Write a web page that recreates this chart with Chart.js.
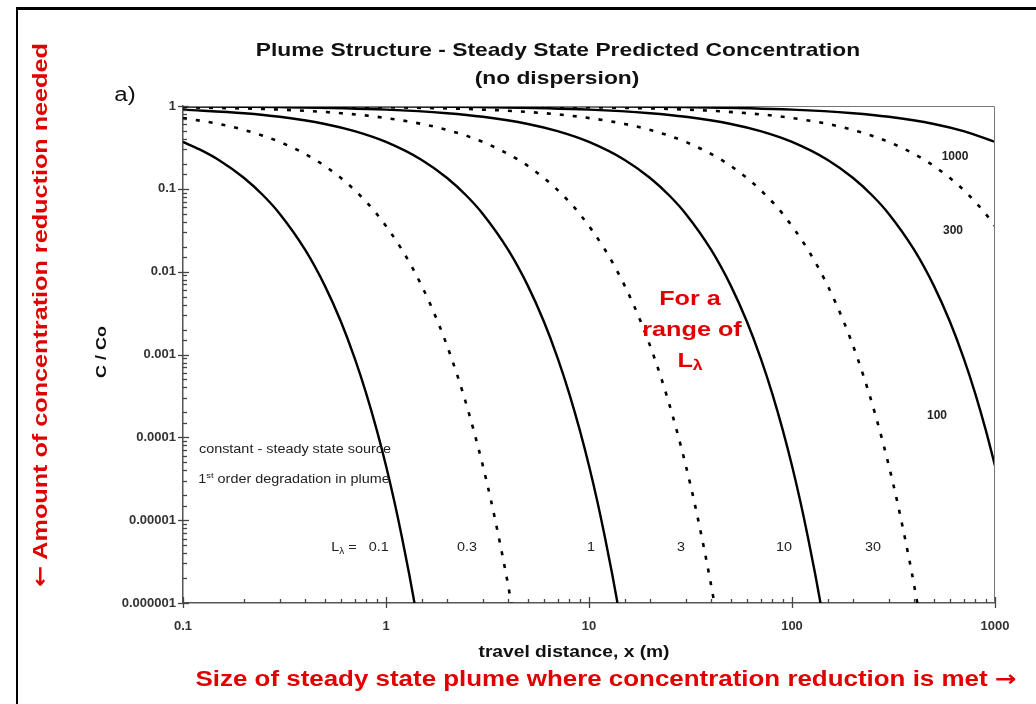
<!DOCTYPE html>
<html>
<head>
<meta charset="utf-8">
<script src="https://cdn.jsdelivr.net/npm/chart.js@4.4.1/dist/chart.umd.min.js"></script>
<style>
  html, body { margin: 0; padding: 0; background: #fff; }
  #wrap { position: relative; width: 1036px; height: 704px; overflow: hidden; font-family: "Liberation Sans", Arial, sans-serif; }
  #frame { position: absolute; left: 16px; top: 7px; width: 1030px; height: 710px; border-left: 2px solid #000; border-top: 3px solid #000; }
  canvas { position: absolute; left: 0; top: 0; }
  .t { position: absolute; white-space: nowrap; transform: translate(-50%, -50%) scaleX(1.2); }
  .title { font-weight: bold; font-size: 19px; color: #111; }
  .red { color: #e00000; font-weight: bold; font-size: 21px; }
  .note { font-size: 12px; color: #222; }
  .lab { font-size: 12px; color: #222; }
  .labb { font-size: 12px; color: #222; font-weight: bold; transform: translate(-50%, -50%); }
  .arrow { font-family: "DejaVu Sans", sans-serif; font-weight: bold; }
  sub { font-size: 70%; vertical-align: -3px; line-height: 0; }
  sup { font-size: 65%; vertical-align: 5px; line-height: 0; }
</style>
</head>
<body>
<div id="wrap">
  <canvas id="chart" width="1036" height="704"></canvas>
  <div id="frame"></div>
  <div class="t title" style="left:558px; top:50px;">Plume Structure - Steady State Predicted Concentration</div>
  <div class="t title" style="left:557px; top:78px;">(no dispersion)</div>
  <div class="t" style="left:125px; top:94px; font-size:20px; color:#111;">a)</div>

  <div class="t red" style="left:40px; top:315px; transform: translate(-50%, -50%) rotate(-90deg) scaleX(1.2);"><span class="arrow">&larr;</span> Amount of concentration reduction needed</div>
  <div class="t red" style="left:606px; top:679px; font-size:21.6px;">Size of steady state plume where concentration reduction is met <span class="arrow">&rarr;</span></div>

  <div class="t red" style="left:690px; top:298px;">For a</div>
  <div class="t red" style="left:692px; top:329px;">range of</div>
  <div class="t red" style="left:690px; top:360px;">L<sub>&lambda;</sub></div>

  <div class="t title" style="left:574px; top:652px; font-size:16px;">travel distance, x (m)</div>
  <div class="t title" style="left:100px; top:352px; font-size:15px; transform: translate(-50%, -50%) rotate(-90deg) scaleX(1.2);">C / Co</div>

  <div class="t note" style="left:295px; top:449px;">constant - steady state source</div>
  <div class="t note" style="left:294px; top:479px;">1<sup>st</sup> order degradation in plume</div>

  <div class="t lab" style="left:360px; top:547px;">L<sub>&lambda;</sub> = &nbsp;&nbsp;0.1</div>
  <div class="t lab" style="left:467px; top:547px;">0.3</div>
  <div class="t lab" style="left:591px; top:547px;">1</div>
  <div class="t lab" style="left:681px; top:547px;">3</div>
  <div class="t lab" style="left:784px; top:547px;">10</div>
  <div class="t lab" style="left:873px; top:547px;">30</div>
  <div class="t labb" style="left:955px; top:156px;">1000</div>
  <div class="t labb" style="left:953px; top:230px;">300</div>
  <div class="t labb" style="left:937px; top:415px;">100</div>
</div>
<script>
// decay lengths of the plotted curves
var lambdas = ['0.1', '0.3', '1', '3', '10', '30', '100', '300', '1000'];
var dotted = [false, true, false, true, false, true, false, true, false];

// travel distance (m) and C/Co
var x01 = [0.1, 0.12, 0.15, 0.2, 0.25, 0.3, 0.4, 0.5, 0.6, 0.7, 0.8, 0.9, 1.0, 1.1, 1.2, 1.3, 1.4];
var y01 = [0.368, 0.301, 0.223, 0.135, 0.082, 0.0498, 0.0183, 0.00674, 0.00248, 0.00091, 0.000335, 0.000123, 0.0000454, 0.0000167, 0.0000061, 0.00000226, 0.00000083];

var x03 = [0.1, 0.15, 0.2, 0.3, 0.45, 0.6, 0.75, 0.9, 1.2, 1.5, 1.8, 2.1, 2.4, 2.7, 3.0, 3.3, 3.6, 3.9, 4.2];
var y03 = [0.717, 0.607, 0.513, 0.368, 0.223, 0.135, 0.082, 0.0498, 0.0183, 0.00674, 0.00248, 0.00091, 0.000335, 0.000123, 0.0000454, 0.0000167, 0.0000061, 0.00000226, 0.00000083];

var x1 = [0.1, 0.2, 0.3, 0.5, 0.7, 1, 1.5, 2, 2.5, 3, 4, 5, 6, 7, 8, 9, 10, 11, 12, 13, 14];
var y1 = [0.905, 0.819, 0.741, 0.607, 0.497, 0.368, 0.223, 0.135, 0.082, 0.0498, 0.0183, 0.00674, 0.00248, 0.00091, 0.000335, 0.000123, 0.0000454, 0.0000167, 0.0000061, 0.00000226, 0.00000083];

var x3 = [0.1, 0.3, 0.6, 0.9, 1.5, 2.1, 3, 4.5, 6, 7.5, 9, 12, 15, 18, 21, 24, 27, 30, 33, 36, 39, 42];
var y3 = [0.967, 0.905, 0.819, 0.741, 0.607, 0.497, 0.368, 0.223, 0.135, 0.082, 0.0498, 0.0183, 0.00674, 0.00248, 0.00091, 0.000335, 0.000123, 0.0000454, 0.0000167, 0.0000061, 0.00000226, 0.00000083];

var x10 = [0.1, 0.3, 1, 2, 3, 5, 7, 10, 15, 20, 25, 30, 40, 50, 60, 70, 80, 90, 100, 110, 120, 130, 140];
var y10 = [0.990, 0.970, 0.905, 0.819, 0.741, 0.607, 0.497, 0.368, 0.223, 0.135, 0.082, 0.0498, 0.0183, 0.00674, 0.00248, 0.00091, 0.000335, 0.000123, 0.0000454, 0.0000167, 0.0000061, 0.00000226, 0.00000083];

var x30 = [0.1, 0.3, 0.9, 3, 6, 9, 15, 21, 30, 45, 60, 75, 90, 120, 150, 180, 210, 240, 270, 300, 330, 360, 390, 420];
var y30 = [0.997, 0.990, 0.970, 0.905, 0.819, 0.741, 0.607, 0.497, 0.368, 0.223, 0.135, 0.082, 0.0498, 0.0183, 0.00674, 0.00248, 0.00091, 0.000335, 0.000123, 0.0000454, 0.0000167, 0.0000061, 0.00000226, 0.00000083];

var x100 = [0.1, 1, 3, 10, 20, 30, 50, 70, 100, 150, 200, 250, 300, 400, 500, 600, 700, 800, 900, 1000];
var y100 = [0.999, 0.990, 0.970, 0.905, 0.819, 0.741, 0.607, 0.497, 0.368, 0.223, 0.135, 0.082, 0.0498, 0.0183, 0.00674, 0.00248, 0.00091, 0.000335, 0.000123, 0.0000454];

var x300 = [0.1, 3, 9, 30, 60, 90, 150, 210, 300, 450, 600, 750, 900, 1000];
var y300 = [1.0, 0.990, 0.970, 0.905, 0.819, 0.741, 0.607, 0.497, 0.368, 0.223, 0.135, 0.082, 0.0498, 0.0357];

var x1000 = [0.1, 10, 30, 100, 200, 300, 500, 700, 1000];
var y1000 = [1.0, 0.990, 0.970, 0.905, 0.819, 0.741, 0.607, 0.497, 0.368];

var xs = [x01, x03, x1, x3, x10, x30, x100, x300, x1000];
var ys = [y01, y03, y1, y3, y10, y30, y100, y300, y1000];

function pts(xa, ya) {
  var out = [];
  for (var i = 0; i < xa.length; i++) out.push({x: xa[i], y: ya[i]});
  return out;
}

var datasets = [];
for (var i = 0; i < lambdas.length; i++) {
  datasets.push({
    label: 'L = ' + lambdas[i],
    data: pts(xs[i], ys[i]),
    borderColor: '#000',
    borderWidth: dotted[i] ? 2.6 : 2.4,
    borderDash: dotted[i] ? [4, 9] : [],
    pointRadius: 0,
    fill: false,
    cubicInterpolationMode: 'monotone'
  });
}

function decadeLabel(v) {
  var e = Math.log10(v);
  var r = Math.round(e);
  if (Math.abs(e - r) > 1e-6) return '';
  return r < 0 ? Math.pow(10, r).toFixed(-r) : String(Math.pow(10, r));
}

// tick marks drawn on the library scales: majors cross the axis, minors point inward
var tickMarks = {
  id: 'tickMarks',
  afterDraw: function(chart) {
    var ctx = chart.ctx, a = chart.chartArea;
    var sx = chart.scales.x, sy = chart.scales.y;
    ctx.save();
    ctx.strokeStyle = '#777';
    ctx.lineWidth = 1;
    ctx.beginPath();
    ctx.moveTo(a.left, a.top + 0.5); ctx.lineTo(a.right - 0.5, a.top + 0.5); ctx.lineTo(a.right - 0.5, a.bottom);
    ctx.stroke();
    ctx.strokeStyle = '#444';
    ctx.lineWidth = 1.3;
    sx.ticks.forEach(function(t) {
      var p = Math.round(sx.getPixelForValue(t.value)) + 0.5;
      var major = decadeLabel(t.value) !== '';
      ctx.beginPath();
      ctx.moveTo(p, a.bottom + (major ? 5 : 0));
      ctx.lineTo(p, a.bottom - (major ? 6 : 4));
      ctx.stroke();
    });
    sy.ticks.forEach(function(t) {
      var p = Math.round(sy.getPixelForValue(t.value)) + 0.5;
      var major = decadeLabel(t.value) !== '';
      ctx.beginPath();
      ctx.moveTo(a.left - (major ? 5 : 0), p);
      ctx.lineTo(a.left + (major ? 6 : 4), p);
      ctx.stroke();
    });
    ctx.restore();
  }
};

var canvas = document.getElementById('chart');
new Chart(canvas, {
  type: 'line',
  data: { datasets: datasets },
  plugins: [tickMarks],
  options: {
    responsive: false,
    animation: false,
    layout: { padding: { left: 86, top: 106, right: 41, bottom: 34 } },
    plugins: { legend: { display: false }, tooltip: { enabled: false } },
    scales: {
      x: {
        type: 'logarithmic',
        min: 0.1,
        max: 1000,
        grid: { drawOnChartArea: false, drawTicks: false },
        border: { color: '#555', width: 1.5 },
        ticks: {
          autoSkip: false, maxRotation: 0, padding: 16, color: '#333',
          font: { family: 'Liberation Sans', size: 13, weight: 'bold' },
          callback: function(v) { return decadeLabel(v); }
        },
        afterFit: function(s) { s.height = 67; }
      },
      y: {
        type: 'logarithmic',
        min: 0.000001,
        max: 1,
        grid: { drawOnChartArea: false, drawTicks: false },
        border: { color: '#555', width: 1.5 },
        ticks: {
          autoSkip: false, padding: 7, color: '#333',
          font: { family: 'Liberation Sans', size: 13, weight: 'bold' },
          callback: function(v) { return decadeLabel(v); }
        },
        afterFit: function(s) { s.width = 97; }
      }
    }
  }
});
</script>
</body>
</html>
